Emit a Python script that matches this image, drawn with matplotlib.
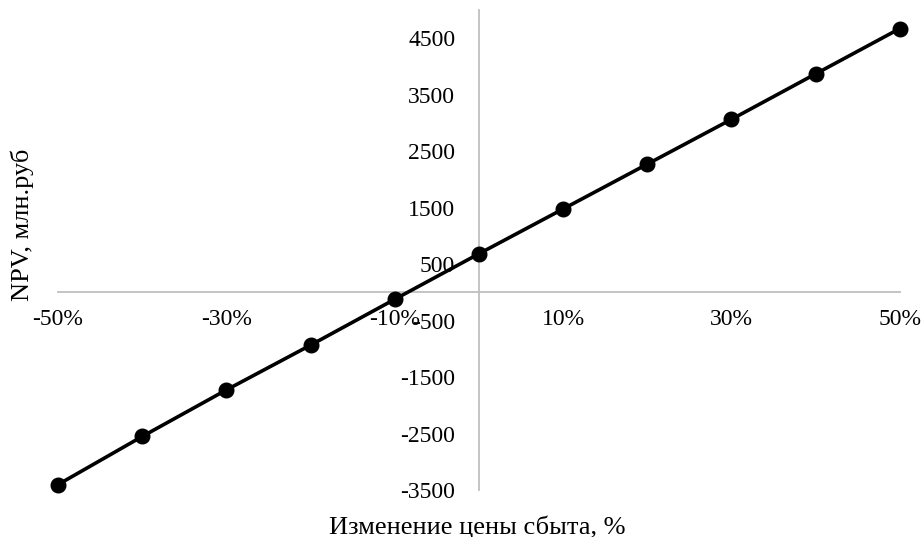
import matplotlib.pyplot as plt
from matplotlib.ticker import FuncFormatter

# Чувствительность NPV к изменению цены сбыта
price_change = [-0.5, -0.4, -0.3, -0.2, -0.1, 0.0, 0.1, 0.2, 0.3, 0.4, 0.5]
npv = [-3404, -2552, -1728, -935, -123, 683, 1476, 2270, 3063, 3868, 4670]

x_ticks = [-0.5, -0.3, -0.1, 0.1, 0.3, 0.5]
y_ticks = [-3500, -2500, -1500, -500, 500, 1500, 2500, 3500, 4500]

plt.rcParams['font.family'] = ['Liberation Serif', 'DejaVu Serif']

fig = plt.figure(figsize=(9.21, 5.37), dpi=100)
ax = fig.add_axes([0.063, 0.0875, 0.914, 0.894])

ax.plot(price_change, npv, marker='o', linestyle='-', color='black',
        linewidth=2.6, markersize=10.5, zorder=5, clip_on=False)

ax.set_xlim(-0.5, 0.5)
ax.set_ylim(-3500, 5000)

# оси пересекаются в нуле
for side in ['top', 'right']:
    ax.spines[side].set_visible(False)
ax.spines['left'].set_position(('data', 0))
ax.spines['bottom'].set_position(('data', 0))
for side in ['left', 'bottom']:
    ax.spines[side].set_color('#bfbfbf')
    ax.spines[side].set_linewidth(1.3)

ax.set_xticks(x_ticks)
ax.set_yticks(y_ticks)
ax.xaxis.set_major_formatter(FuncFormatter(lambda v, p: '%d%%' % round(v * 100)))
ax.yaxis.set_major_formatter(FuncFormatter(lambda v, p: '%d' % v))
ax.tick_params(axis='x', length=0, pad=12, labelsize=17)
ax.tick_params(axis='y', length=0, pad=17, labelsize=17)

fig.text(0.024, 0.581, 'NPV, млн.руб', rotation=90, ha='center', va='center', fontsize=19)
fig.text(0.518, 0.019, 'Изменение цены сбыта, %', ha='center', va='center', fontsize=19)

fig.savefig('out.png', dpi=100)
